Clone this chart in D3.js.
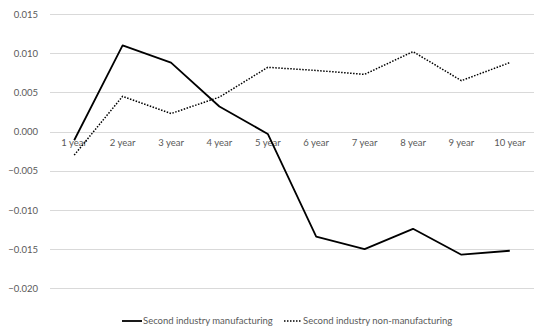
<!DOCTYPE html>
<html>
<head>
<meta charset="utf-8">
<script src="https://cdn.jsdelivr.net/npm/d3@7"></script>
<style>
  html, body { margin: 0; padding: 0; background: #fff; }
  svg { display: block; }
  text { font-family: Lato, "Open Sans", sans-serif; fill: #595959; }
</style>
</head>
<body>
<svg id="chart" width="535" height="331"></svg>
<script>
// Horizon categories
const categories = ["1 year", "2 year", "3 year", "4 year", "5 year", "6 year", "7 year", "8 year", "9 year", "10 year"];

// Series values
const manufacturing = [-0.0011, 0.0110, 0.0088, 0.0032, -0.0003, -0.0134, -0.0150, -0.0124, -0.0157, -0.0152];
const nonManufacturing = [-0.0030, 0.0045, 0.0023, 0.0044, 0.0082, 0.0078, 0.0073, 0.0102, 0.0065, 0.0088];

// Y tick values
const yTicks = [0.015, 0.010, 0.005, 0.000, -0.005, -0.010, -0.015, -0.020];

const seriesNames = ["Second industry manufacturing", "Second industry non-manufacturing"];

const svg = d3.select("#chart");
const plotLeft = 50, plotRight = 534, plotTop = 14, plotBottom = 288.4;
const fontSize = 9.5;

const x = d3.scaleBand().domain(categories).range([plotLeft, plotRight]);
const y = d3.scaleLinear().domain([-0.020, 0.015]).range([plotBottom, plotTop]);

// Horizontal gridlines
svg.append("g")
  .selectAll("line")
  .data(yTicks)
  .join("line")
  .attr("x1", plotLeft).attr("x2", plotRight)
  .attr("y1", d => Math.round(y(d)) + 0.5)
  .attr("y2", d => Math.round(y(d)) + 0.5)
  .attr("stroke", "#d9d9d9")
  .attr("stroke-width", 1);

// Y axis labels
const yAxis = d3.axisLeft(y).tickValues(yTicks).tickFormat(d3.format(".3f")).tickSize(0).tickPadding(0);
const gy = svg.append("g").attr("transform", `translate(38,0)`).call(yAxis);
gy.select(".domain").remove();
gy.selectAll("text").attr("font-size", fontSize).style("font-family", "Lato, sans-serif").attr("fill", "#595959");

// X axis labels sitting just below the zero line
const xAxis = d3.axisBottom(x).tickSize(0).tickPadding(0);
const gx = svg.append("g").attr("transform", `translate(0,${y(0) + 8})`).call(xAxis);
gx.select(".domain").remove();
gx.selectAll("text").attr("font-size", fontSize).style("font-family", "Lato, sans-serif").attr("fill", "#595959");

const line = d3.line()
  .x((d, i) => x(categories[i]) + x.bandwidth() / 2)
  .y(d => y(d));

svg.append("path")
  .datum(manufacturing)
  .attr("d", line)
  .attr("fill", "none")
  .attr("stroke", "#000")
  .attr("stroke-width", 1.8)
  .attr("stroke-linejoin", "round");

svg.append("path")
  .datum(nonManufacturing)
  .attr("d", line)
  .attr("fill", "none")
  .attr("stroke", "#000")
  .attr("stroke-width", 1.5)
  .attr("stroke-dasharray", "1.5,1.5");

// Legend
const legendY = 321;
const legend = svg.append("g");
const items = [
  { name: seriesNames[0], x0: 122, x1: 142, dash: null, w: 1.8 },
  { name: seriesNames[1], x0: 284, x1: 302, dash: "1.5,1.5", w: 1.5 }
];
items.forEach(it => {
  legend.append("line")
    .attr("x1", it.x0).attr("x2", it.x1)
    .attr("y1", legendY).attr("y2", legendY)
    .attr("stroke", "#000")
    .attr("stroke-width", it.w)
    .attr("stroke-dasharray", it.dash);
  legend.append("text")
    .attr("x", it.x1 + 1)
    .attr("y", legendY)
    .attr("dy", "0.35em")
    .attr("font-size", fontSize)
    .text(it.name);
});
</script>
</body>
</html>
